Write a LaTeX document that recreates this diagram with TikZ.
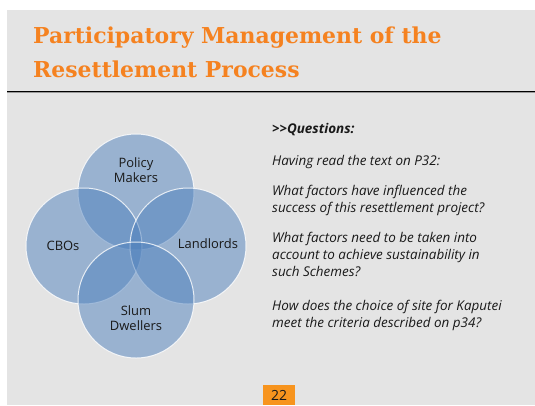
\documentclass[tikz,border=0pt]{standalone}
\usepackage{fontspec}
\setsansfont{Open Sans}
\newfontfamily\titlefont{DejaVu Serif}
\usepackage{tikz}
\definecolor{slidegray}{RGB}{228,228,228}
\definecolor{titleorange}{RGB}{245,130,32}
\definecolor{pageorange}{RGB}{247,148,30}
\definecolor{vennblue}{RGB}{79,129,189}

\begin{document}
\begin{tikzpicture}[x=1bp,y=-1bp,font=\sffamily,
  every node/.style={align=center,inner sep=0pt,text=black!90},
  venn/.style={circle,draw=white,line width=1bp,draw opacity=.8,
    fill=vennblue,fill opacity=.5,minimum size=116bp},
  vennlabel/.style={font=\sffamily\fontsize{13}{14.5}\selectfont},
  title/.style={anchor=base west,align=left,text=titleorange,
    font=\titlefont\bfseries\fontsize{22}{34}\selectfont},
  question/.style={anchor=base west,align=left,
    font=\sffamily\itshape\fontsize{13.5}{17}\selectfont},
  pagebox/.style={fill=pageorange,minimum width=32bp,minimum height=20bp,
    font=\sffamily\fontsize{14}{16}\selectfont}]

    \useasboundingbox (0,0) rectangle (535,405);
    \fill[white] (0,0) rectangle (535,405);
    \fill[slidegray] (7,10) rectangle (535,405);

    % title and rule (base = last line)
    \node[title] (title) at (33,77) {Participatory Management of the\\Resettlement Process};
    \draw[black,line width=1bp] (7,91) -- (535,91);
    \draw[black!40,line width=1.5bp] (7,92.7) -- (535,92.7);

    % venn circles
    \node[venn] (policy) at (136,192) {};
    \node[venn] (cbos) at (84,246) {};
    \node[venn] (landlords) at (188,246) {};
    \node[venn] (slum) at (136,300) {};

    \node[vennlabel,yshift=22bp] (policylabel) at (policy) {Policy\\Makers};
    \node[vennlabel,xshift=-21bp] (cboslabel) at (cbos) {CBOs};
    \node[vennlabel,xshift=20bp,yshift=2bp] (landlordslabel) at (landlords) {Landlords};
    \node[vennlabel,yshift=-18bp] (slumlabel) at (slum) {Slum\\Dwellers};

    % questions
    \node[question,font=\sffamily\bfseries\itshape\fontsize{13.5}{17}\selectfont] (q0) at (272,133) {>{}>Questions:};
    \node[question] (q1) at (272,165) {Having read the text on P32:};
    \node[question] (q2) at (272,212) {What factors have influenced the\\success of this resettlement project?};
    \node[question] (q3) at (272,276) {What factors need to be taken into\\account to achieve sustainability in\\such Schemes?};
    \node[question] (q4) at (272,327) {How does the choice of site for Kaputei\\meet the criteria described on p34?};

    \node[pagebox,anchor=north west] (pagenum) at (263,385) {22};
\end{tikzpicture}
\end{document}
